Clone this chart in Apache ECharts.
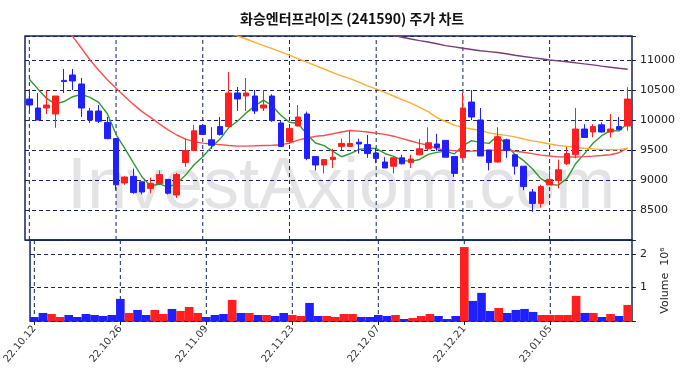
<!DOCTYPE html>
<html>
<head>
<meta charset="utf-8">
<script src="https://cdn.jsdelivr.net/npm/echarts@6/dist/echarts.min.js"></script>
<style>
html,body{margin:0;padding:0;background:#fff;}
#chart{width:683px;height:378px;}
</style>
</head>
<body>
<div id="chart"></div>
<script>
// trading days shown
var dates = ['22.10.12','22.10.13','22.10.14','22.10.17','22.10.18','22.10.19','22.10.20','22.10.21','22.10.24','22.10.25',
 '22.10.26','22.10.27','22.10.28','22.10.31','22.11.01','22.11.02','22.11.03','22.11.04','22.11.07','22.11.08',
 '22.11.09','22.11.10','22.11.11','22.11.14','22.11.15','22.11.16','22.11.17','22.11.18','22.11.21','22.11.22',
 '22.11.23','22.11.24','22.11.25','22.11.28','22.11.29','22.11.30','22.12.01','22.12.02','22.12.05','22.12.06',
 '22.12.07','22.12.08','22.12.09','22.12.12','22.12.13','22.12.14','22.12.15','22.12.16','22.12.19','22.12.20',
 '22.12.21','22.12.22','22.12.23','22.12.26','22.12.27','22.12.28','22.12.29','23.01.02','23.01.03','23.01.04',
 '23.01.05','23.01.06','23.01.09','23.01.10','23.01.11','23.01.12','23.01.13','23.01.16','23.01.17','23.01.18'];
// dates that carry a label and a vertical grid line
var tickDates = ['22.10.12','22.10.26','22.11.09','22.11.23','22.12.07','22.12.21','23.01.05'];

var opens = [10350,10200,10200,10100,10660,10750,10600,10150,10150,9960,
 9690,8950,9060,8970,8860,8940,9010,8750,9290,9490,
 9910,9670,9890,9890,10450,10400,10400,10200,10400,9950,
 9640,9900,10100,9390,9250,9340,9560,9560,9630,9590,
 9450,9300,9230,9370,9290,9420,9520,9600,9660,9390,
 9370,10300,10000,9500,9300,9670,9420,9230,8800,8610,
 8920,8990,9270,9420,9850,9800,9920,9800,9890,9900];
var closes = [10250,10000,10250,10400,10640,10650,10200,10000,9980,9690,
 8920,9050,8790,8800,8940,9090,8780,9090,9490,9820,
 9760,9580,9760,10450,10350,10450,10150,10250,9990,9560,
 9860,10050,9360,9250,9340,9380,9610,9610,9600,9440,
 9360,9200,9370,9270,9350,9520,9620,9540,9380,9110,
 10200,10050,9400,9290,9720,9490,9230,8890,8610,8890,
 9010,9170,9440,9850,9710,9890,9800,9850,9840,10350];
var highs = [10500,10450,10500,10400,10850,10850,10700,10200,10250,10050,
 9690,9060,9190,8970,9040,9160,9010,9120,9690,9920,
 9930,9880,10050,10800,10550,10700,10500,10500,10430,9990,
 9870,10250,10140,9400,9350,9520,9690,9820,9690,9750,
 9530,9380,9380,9420,9420,9680,9880,9770,9660,9400,
 10450,10500,10200,9500,9880,9690,9420,9230,8850,8920,
 9160,9340,9550,10200,9930,9930,9960,10100,10050,10550];
var lows = [10150,10000,10100,9870,10450,10500,10050,9950,9950,9680,
 8830,8920,8770,8760,8780,8920,8760,8700,9220,9490,
 9750,9520,9740,9890,10150,10150,10100,10150,9970,9550,
 9600,9890,9330,9160,9110,9200,9500,9550,9440,9370,
 9280,9200,9110,9260,9200,9410,9500,9490,9380,9050,
 9350,10000,9400,9160,9290,9370,9090,8830,8470,8540,
 8920,8860,9250,9360,9700,9710,9790,9710,9830,9820];
var volumes = [120000,240000,210000,120000,180000,120000,210000,180000,150000,180000,
 660000,240000,330000,180000,330000,210000,360000,300000,420000,240000,
 120000,180000,210000,630000,240000,240000,180000,180000,150000,240000,
 180000,150000,540000,150000,150000,120000,210000,210000,120000,120000,
 180000,150000,180000,60000,90000,150000,210000,150000,60000,150000,
 2210000,600000,840000,300000,390000,240000,330000,360000,270000,180000,
 180000,180000,180000,750000,240000,240000,120000,210000,150000,480000];

var ma5 = [10680,10514,10360,10265,10308,10388,10428,10378,10294,10104,
 9758,9528,9286,9050,8900,8934,8880,8940,9078,9254,
 9388,9548,9682,9874,9980,10118,10232,10330,10238,10080,
 9962,9942,9764,9616,9572,9476,9388,9438,9508,9528,
 9524,9442,9394,9328,9310,9342,9426,9460,9482,9434,
 9570,9656,9628,9610,9732,9590,9426,9324,9188,9022,
 8926,8914,9024,9272,9436,9612,9738,9820,9818,9946];
var ma20 = [null,null,null,null,11570,11390,11200,11000,10830,10670,
 10530,10390,10260,10140,10040,9935,9835,9750,9680,9640,
 9615,9600,9590,9575,9565,9565,9570,9576,9580,9587,
 9615,9665,9700,9728,9741,9770,9800,9824,9815,9800,
 9780,9760,9730,9690,9650,9610,9580,9521,9500,9490,
 9476,9482,9487,9493,9498,9504,9480,9462,9440,9415,
 9400,9385,9383,9383,9390,9398,9408,9421,9455,9530];
var ma60 = [null,null,null,null,null,null,null,null,null,null,
 null,null,null,null,null,null,null,null,null,null,
 null,null,null,11460,11400,11350,11295,11240,11190,11135,
 11080,11020,10965,10905,10850,10790,10735,10690,10630,10570,
 10520,10460,10400,10340,10280,10210,10140,10040,9975,9915,
 9877,9850,9827,9786,9762,9743,9718,9683,9653,9630,
 9601,9574,9560,9545,9530,9519,9510,9504,9507,9530];
var ma120 = [null,null,null,null,null,null,null,null,null,null,
 null,null,null,null,null,null,null,null,null,null,
 null,null,null,null,null,null,null,null,null,null,
 null,null,null,null,null,null,null,null,null,null,
 null,11440,11410,11380,11350,11322,11300,11270,11240,11218,
 11195,11175,11154,11140,11125,11105,11080,11058,11040,11020,
 11000,10985,10970,10953,10935,10918,10898,10880,10862,10845];

var priceMin = 8000, priceMax = 11400, volMax = 2420000;
var upColor = '#ff1f1f', downColor = '#1f1fff';
var gridColor = '#14265e';

var candles = [], volBars = [];
for (var i = 0; i < dates.length; i++) {
  candles.push([opens[i], closes[i], lows[i], highs[i]]);
  volBars.push({
    value: volumes[i],
    itemStyle: { color: closes[i] >= opens[i] ? upColor : downColor }
  });
}

// vertical dashed grid lines through the labelled days (one broken line series per panel)
function dateLines(axisIdx, lo, hi) {
  var pts = [];
  tickDates.forEach(function (d) {
    pts.push([d, lo], [d, hi], '-');
  });
  return {
    type: 'line', data: pts, xAxisIndex: axisIdx, yAxisIndex: axisIdx,
    symbol: 'none', silent: true, connectNulls: false, z: 1,
    lineStyle: { color: gridColor, width: 1, type: [4, 3] }
  };
}

function maLine(name, data, color) {
  return {
    name: name, type: 'line', data: data,
    xAxisIndex: 0, yAxisIndex: 0,
    showSymbol: false, symbol: 'none',
    lineStyle: { width: 1.4, color: color },
    clip: true, z: 3
  };
}

var splitDash = { show: true, lineStyle: { color: gridColor, width: 1, type: [4, 3] } };

var myChart = echarts.init(document.getElementById('chart'));
myChart.setOption({
  animation: false,
  backgroundColor: '#fff',
  title: {
    text: '화승엔터프라이즈 (241590) 주가 차트',
    left: 235,
    top: 7,
    textStyle: { fontFamily: 'Noto Sans CJK KR', fontSize: 14, fontWeight: 'bold', color: '#111' }
  },
  graphic: [{
    type: 'text', left: 67, top: 152, z: -10,
    style: { text: 'InvestAxiom.com', font: '72px "Liberation Sans"', fill: '#e3e3e6' }
  }],
  grid: [
    { left: 25, right: 51, top: 36, height: 204, show: true, borderColor: gridColor, borderWidth: 1.5 },
    { left: 25, right: 51, top: 240, height: 81, show: true, borderColor: gridColor, borderWidth: 1.5 }
  ],
  xAxis: [
    {
      type: 'category', gridIndex: 0, data: dates, boundaryGap: true,
      axisLine: { show: false }, axisTick: { show: false }, axisLabel: { show: false },
      splitLine: { show: false }
    },
    {
      type: 'category', gridIndex: 1, data: dates, boundaryGap: true,
      axisLine: { show: false },
      axisTick: { show: true, interval: 9, alignWithLabel: true, length: 4, lineStyle: { color: '#222' } },
      axisLabel: { interval: 9, rotate: 50, fontSize: 10, color: '#333', margin: 6, fontFamily: 'DejaVu Sans' },
      splitLine: { show: false }
    }
  ],
  yAxis: [
    {
      type: 'value', gridIndex: 0, position: 'right', min: priceMin, max: priceMax, interval: 500,
      axisLine: { show: false },
      axisTick: { show: true, length: 4, lineStyle: { color: '#222' } },
      axisLabel: {
        fontSize: 11, color: '#222', margin: 8, fontFamily: 'DejaVu Sans',
        formatter: function (v) { return (v >= 8500 && v <= 11000) ? String(v) : ''; }
      },
      splitLine: splitDash
    },
    {
      type: 'value', gridIndex: 1, position: 'right', min: 0, max: volMax, interval: 1000000,
      axisLine: { show: false },
      axisTick: { show: true, length: 4, lineStyle: { color: '#222' } },
      axisLabel: {
        fontSize: 11, color: '#222', margin: 8, fontFamily: 'DejaVu Sans',
        formatter: function (v) { return v === 1000000 ? '1' : (v === 2000000 ? '2' : ''); }
      },
      splitLine: splitDash,
      name: 'Volume  10⁶', nameLocation: 'middle', nameRotate: 90, nameGap: 28,
      nameTextStyle: { fontSize: 11, color: '#222', fontFamily: 'DejaVu Sans' }
    }
  ],
  series: [
    dateLines(0, priceMin, priceMax),
    dateLines(1, 0, volMax),
    {
      name: 'price', type: 'candlestick', data: candles,
      xAxisIndex: 0, yAxisIndex: 0, barWidth: '70%',
      itemStyle: { color: upColor, color0: downColor, borderColor: upColor, borderColor0: downColor, borderWidth: 1 },
      z: 4
    },
    maLine('MA5', ma5, '#2f9a2f'),
    maLine('MA20', ma20, '#ff4d4d'),
    maLine('MA60', ma60, '#ffad33'),
    maLine('MA120', ma120, '#7a3a7a'),
    {
      name: 'Volume', type: 'bar', data: volBars,
      xAxisIndex: 1, yAxisIndex: 1, barCategoryGap: '0%', barWidth: '100%', z: 2
    }
  ]
});

window.addEventListener('resize', function () {
  myChart.resize();
});
</script>
</body>
</html>
